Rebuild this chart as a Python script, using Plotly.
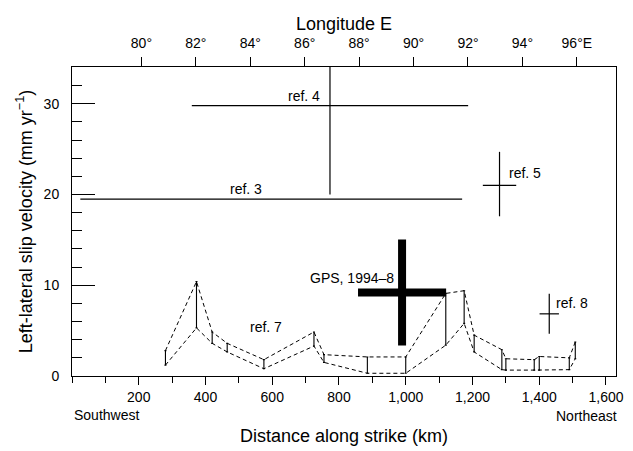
import plotly.graph_objects as go

# ---------------- data ----------------
# Independent estimates: centre distance (km), half-range (km), slip (mm/yr), asymmetric errors
ref_names = ["ref. 3", "ref. 4", "ref. 5", "ref. 8"]
ref_x = [597, 773, 1281, 1430]
ref_xerr = [572, 414, 50, 29]
ref_y = [19.5, 29.8, 21.0, 6.85]
ref_yerr_plus = [0.0, 5.9, 3.7, 2.2]
ref_yerr_minus = [0.0, 9.8, 3.4, 2.2]

# GPS 1994-8
gps_x = [989]
gps_xerr = [132]
gps_y = [9.2]
gps_yerr = [5.85]

# ref. 7 : along-strike range of slip rate (lower / upper bounds)
ref7_km = [280, 373, 420, 465, 575, 725, 755, 885, 1000, 1120, 1175, 1205, 1288, 1300, 1385, 1400, 1490, 1508]
ref7_lo = [1.2, 5.3, 3.6, 2.65, 0.8, 3.3, 1.5, 0.3, 0.3, 3.4, 5.8, 2.65, 0.7, 0.65, 0.65, 0.65, 0.7, 1.9]
ref7_hi = [2.8, 10.4, 4.85, 3.6, 1.8, 4.85, 2.35, 2.1, 2.1, 9.1, 9.4, 4.5, 2.9, 1.9, 1.8, 2.15, 2.0, 3.75]

# axes
x_tickvals = [200, 400, 600, 800, 1000, 1200, 1400, 1600]
x_ticktext = ["200", "400", "600", "800", "1,000", "1,200", "1,400", "1,600"]
y_tickvals = [0, 10, 20, 30]
lon_tickvals = [80, 82, 84, 86, 88, 90, 92, 94, 96]
lon_ticktext = ["80°", "82°", "84°", "86°", "88°", "90°", "92°", "94°", "96°E"]

FONT = "Liberation Sans, Arial, Helvetica, sans-serif"
BLACK = "#000000"

# the page body adds an 8 px margin, so the figure is 8 px smaller than the window
W, H = 625, 443
M_L, M_R, M_T, M_B = 64, 17, 59, 75
X_MAX = 1630
Y_MAX = 34.05
px_per_unit_y = (H - M_T - M_B) / Y_MAX

fig = go.Figure()

# ref. 7 dashed envelopes
for bound in (ref7_hi, ref7_lo):
    fig.add_trace(go.Scatter(x=ref7_km, y=bound, mode="lines",
                             line=dict(color=BLACK, width=1, dash="4px,3px"),
                             hoverinfo="skip", showlegend=False))
# ref. 7 vertical ranges
fig.add_trace(go.Scatter(
    x=ref7_km, y=ref7_hi, mode="markers",
    marker=dict(size=1, color="rgba(0,0,0,0)"),
    error_y=dict(type="data", symmetric=False, array=[0] * len(ref7_km),
                 arrayminus=[h - l for h, l in zip(ref7_hi, ref7_lo)],
                 color=BLACK, thickness=1.1, width=1),
    hoverinfo="skip", showlegend=False))

# independent estimates (crosses)
fig.add_trace(go.Scatter(
    x=ref_x, y=ref_y, mode="markers",
    marker=dict(size=1, color="rgba(0,0,0,0)"),
    error_x=dict(type="data", array=ref_xerr, color=BLACK, thickness=1.2, width=0),
    error_y=dict(type="data", symmetric=False, array=ref_yerr_plus,
                 arrayminus=ref_yerr_minus, color=BLACK, thickness=1.2, width=0),
    hoverinfo="skip", showlegend=False))

# part of ref. 4 error bar that runs above the frame (not clipped)
top4 = ref_y[1] + ref_yerr_plus[1]
over_len_px = (top4 - Y_MAX) * px_per_unit_y
fig.add_trace(go.Scatter(
    x=[ref_x[1]], y=[(top4 + Y_MAX) / 2], mode="markers", cliponaxis=False,
    marker=dict(symbol="line-ns", size=over_len_px / 1.4,
                line=dict(color=BLACK, width=1.2), color=BLACK),
    hoverinfo="skip", showlegend=False))

# GPS
fig.add_trace(go.Scatter(
    x=gps_x, y=gps_y, mode="markers",
    marker=dict(size=1, color="rgba(0,0,0,0)"),
    error_x=dict(type="data", array=gps_xerr, color=BLACK, thickness=8, width=0),
    error_y=dict(type="data", array=gps_yerr, color=BLACK, thickness=8, width=0),
    hoverinfo="skip", showlegend=False))

# dummy trace for top (longitude) axis
fig.add_trace(go.Scatter(x=[80, 96], y=[None, None], xaxis="x2", yaxis="y",
                         mode="markers", showlegend=False, hoverinfo="skip"))

# labels
lab = dict(font=dict(family=FONT, size=14, color=BLACK), showarrow=False)
fig.add_annotation(x=694, y=30.85, text=ref_names[1], xanchor="center", yanchor="middle", **lab)
fig.add_annotation(x=520, y=20.65, text=ref_names[0], xanchor="center", yanchor="middle", **lab)
fig.add_annotation(x=1303, y=22.4, text=ref_names[2], xanchor="left", yanchor="middle", **lab)
fig.add_annotation(x=1445, y=8.0, text=ref_names[3], xanchor="left", yanchor="middle", **lab)
fig.add_annotation(x=580, y=5.35, text="ref. 7", xanchor="center", yanchor="middle", **lab)
fig.add_annotation(x=972, y=10.8, text="GPS, 1994–8", xanchor="right", yanchor="middle", **lab)

fig.add_annotation(xref="paper", yref="paper", x=0, y=-39 / (H - M_T - M_B), text="Southwest",
                   xanchor="left", yanchor="middle", **lab)
fig.add_annotation(xref="paper", yref="paper", x=1, xshift=3, y=-40 / (H - M_T - M_B), text="Northeast",
                   xanchor="right", yanchor="middle", **lab)

tickfont = dict(family=FONT, size=14, color=BLACK)
titlefont = dict(family=FONT, size=18, color=BLACK)

fig.update_layout(
    width=W, height=H,
    margin=dict(l=M_L, r=M_R, t=M_T, b=M_B, autoexpand=False),
    paper_bgcolor="white", plot_bgcolor="white",
    font=dict(family=FONT, color=BLACK),
    showlegend=False,
    xaxis=dict(range=[0, X_MAX], tickmode="array", tickvals=x_tickvals, ticktext=x_ticktext,
               ticks="outside", ticklen=8, tickwidth=1, tickcolor=BLACK,
               minor=dict(tickmode="linear", tick0=0, dtick=100, ticks="outside",
                          ticklen=6, tickwidth=1, tickcolor=BLACK, showgrid=False),
               showline=True, linecolor=BLACK, linewidth=1, mirror=False,
               showgrid=False, zeroline=False, tickfont=tickfont, ticklabelstandoff=0,
               title=dict(text="Distance along strike (km)", font=titlefont, standoff=25)),
    xaxis2=dict(overlaying="x", side="top", range=[77.45, 97.44],
                tickmode="array", tickvals=lon_tickvals, ticktext=lon_ticktext,
                ticks="outside", ticklen=9, tickwidth=1, tickcolor=BLACK,
                showline=True, linecolor=BLACK, linewidth=1,
                showgrid=False, zeroline=False, tickfont=tickfont, ticklabelstandoff=3,
                title=dict(text="Longitude E", font=titlefont, standoff=0)),
    yaxis=dict(range=[0, Y_MAX], tickmode="array", tickvals=y_tickvals,
               ticks="inside", ticklen=23, tickwidth=1, tickcolor=BLACK,
               minor=dict(tickmode="linear", tick0=0, dtick=2, ticks="inside",
                          ticklen=10, tickwidth=1, tickcolor=BLACK, showgrid=False),
               showline=True, linecolor=BLACK, linewidth=1, mirror=True,
               showgrid=False, zeroline=False, tickfont=tickfont, ticklabelstandoff=9,
               title=dict(text="Left-lateral slip velocity (mm yr<sup>−1</sup>)",
                          font=titlefont, standoff=6)),
)

fig.write_html("out.html")
